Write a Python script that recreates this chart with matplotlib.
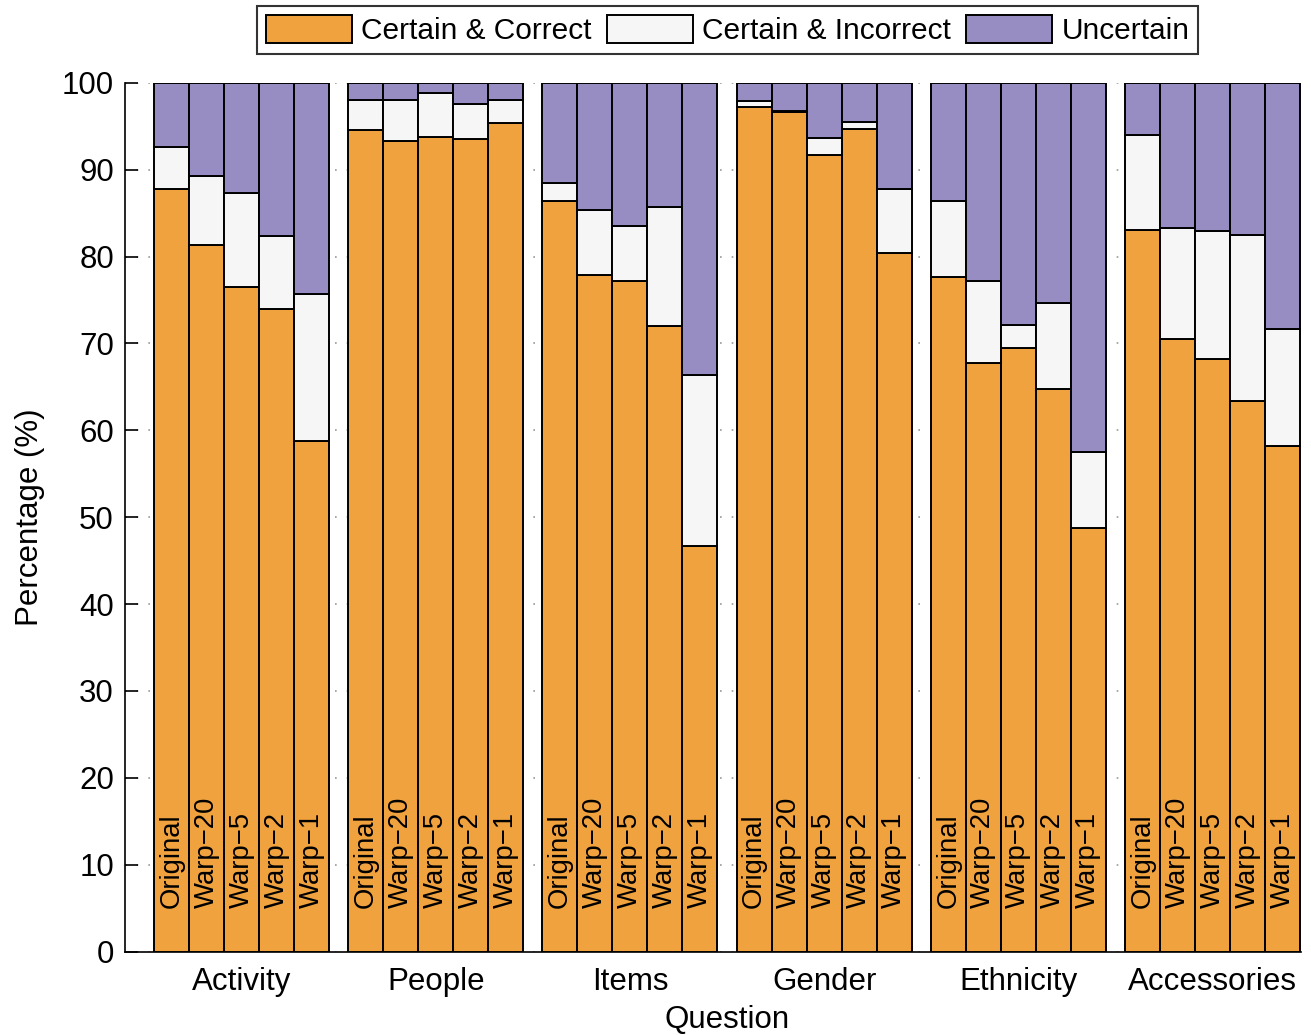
import matplotlib
matplotlib.use("Agg")
import matplotlib.pyplot as plt
import numpy as np

plt.rcParams['font.family'] = ['Liberation Sans', 'DejaVu Sans']

questions = ["Activity", "People", "Items", "Gender", "Ethnicity", "Accessories"]
conditions = ["Original", "Warp\u221220", "Warp\u22125", "Warp\u22122", "Warp\u22121"]

# cumulative top of "Certain & Correct" for each question x condition
correct = [
    [87.8, 81.3, 76.5, 74.0, 58.8],
    [94.6, 93.3, 93.7, 93.5, 95.4],
    [86.4, 77.9, 77.2, 72.0, 46.7],
    [97.2, 96.6, 91.7, 94.7, 80.4],
    [77.6, 67.7, 69.5, 64.8, 48.7],
    [83.0, 70.5, 68.2, 63.4, 58.2],
]
# cumulative top of "Certain & Incorrect"
incorrect_top = [
    [92.6, 89.3, 87.3, 82.4, 75.7],
    [98.0, 98.0, 98.8, 97.5, 98.0],
    [88.5, 85.3, 83.5, 85.7, 66.4],
    [97.9, 96.7, 93.6, 95.5, 87.8],
    [86.4, 77.2, 72.1, 74.6, 57.5],
    [94.0, 83.3, 82.9, 82.5, 71.7],
]
total = 100.0

correct = np.array(correct)
incorrect = np.array(incorrect_top) - correct
uncertain = total - np.array(incorrect_top)

c_orange = "#F0A23E"
c_white = "#F6F6F6"
c_purple = "#978DC3"

fig = plt.figure(figsize=(13.11, 10.35), dpi=100)
ax = fig.add_axes([125/1311, 1 - 951.7/1035, (1301-125)/1311, (951.7-82.7)/1035])

group_step = 5.55
nq, nc = correct.shape
xs = np.array([[g*group_step + i for i in range(nc)] for g in range(nq)])

ec = "black"
lw = 1.4
h1 = h2 = h3 = None
for g in range(nq):
    x = xs[g]
    h1 = ax.bar(x, correct[g], width=1.0, color=c_orange, edgecolor=ec, linewidth=lw, zorder=3)
    h2 = ax.bar(x, incorrect[g], bottom=correct[g], width=1.0, color=c_white, edgecolor=ec, linewidth=lw, zorder=3)
    h3 = ax.bar(x, uncertain[g], bottom=correct[g]+incorrect[g], width=1.0, color=c_purple, edgecolor=ec, linewidth=lw, zorder=3)
    for i in range(nc):
        ax.text(x[i], 5.0, conditions[i], rotation=90, ha='center', va='bottom',
                fontsize=19.8, zorder=5)

ax.set_xlim(-1.33, (nq-1)*group_step + nc - 0.5 + 0.03)
ax.set_ylim(0, 100)
ax.set_yticks(np.arange(0, 101, 10))
ax.set_xticks([g*group_step + (nc-1)/2 for g in range(nq)])
ax.set_xticklabels(questions)
ax.tick_params(axis='y', direction='in', length=9, width=1.2, labelsize=22.5, pad=8)
ax.tick_params(axis='x', length=0, labelsize=22.5, pad=11)
ax.spines['top'].set_visible(False)
ax.spines['right'].set_visible(False)
ax.spines['left'].set_linewidth(1.2)
ax.spines['bottom'].set_linewidth(1.2)
ax.yaxis.grid(True, linestyle=(0, (1, 6)), color='#999999', linewidth=1.2, zorder=0)
ax.set_axisbelow(True)
ax.set_ylabel("Percentage (%)", fontsize=22.5, labelpad=12)
ax.set_xlabel("Question", fontsize=22.5, labelpad=6)
ax.xaxis.label.set_x((727 - 125) / (1301 - 125))

leg = fig.legend([h1, h2, h3], ["Certain & Correct", "Certain & Incorrect", "Uncertain"],
                 loc='center', bbox_to_anchor=(727.5/1311, 1 - 30/1035), ncol=3,
                 fontsize=21.5, frameon=True, fancybox=False, edgecolor='black',
                 handlelength=2.9, handleheight=1.1, columnspacing=0.5, handletextpad=0.3,
                 borderpad=0.3, borderaxespad=0)
leg.get_frame().set_linewidth(1.5)

fig.savefig("out.png", dpi=100)
